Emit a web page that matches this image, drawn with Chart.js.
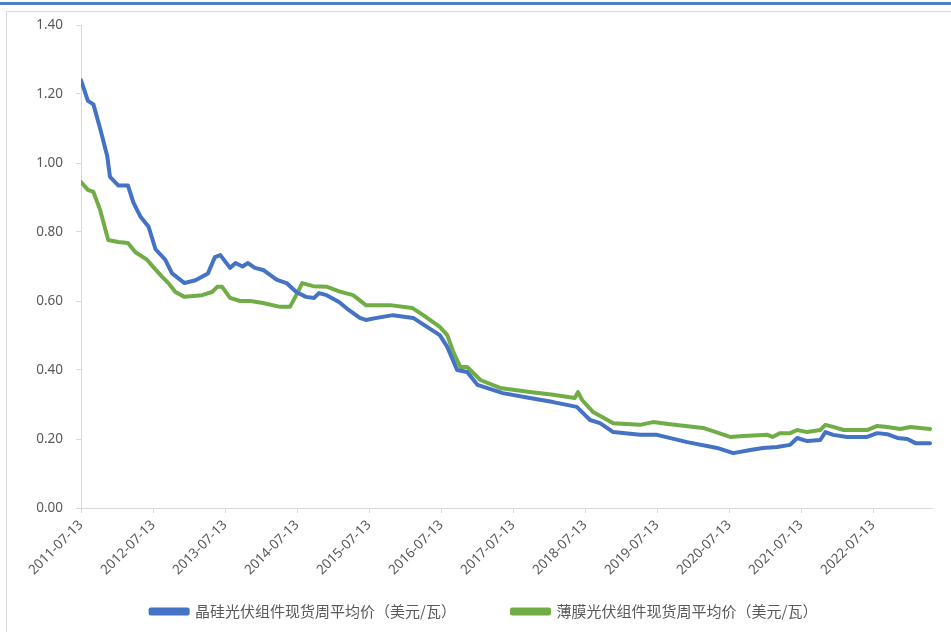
<!DOCTYPE html>
<html>
<head>
<meta charset="utf-8">
<script src="https://cdn.jsdelivr.net/npm/chart.js@4/dist/chart.umd.min.js"></script>
<style>
  html, body { margin: 0; padding: 0; background: #fff; }
  #wrap { position: relative; width: 951px; height: 632px; overflow: hidden; }
  #topbar { position: absolute; left: 0; top: 2px; width: 951px; height: 3px; background: #4f81bd; }
  #frame { position: absolute; left: 6px; top: 11px; width: 980px; height: 660px; border: 1px solid #d9d9d9; }
  #chart { position: absolute; left: 0; top: 0; }
</style>
</head>
<body>
<div id="wrap">
  <div id="topbar"></div>
  <div id="frame"></div>
  <canvas id="chart" width="951" height="632"></canvas>
</div>
<script>
// weekly spot module prices (USD/W)
const blueName = '晶硅光伏组件现货周平均价（美元/瓦）';
const greenName = '薄膜光伏组件现货周平均价（美元/瓦）';

const blueDates = ['2011-07-13', '2011-08-17', '2011-09-14', '2011-10-18', '2011-11-23', '2011-12-07',
    '2012-01-18', '2012-03-07', '2012-04-04', '2012-05-09', '2012-06-20', '2012-07-25', '2012-09-12',
    '2012-10-17', '2012-12-19', '2013-02-13', '2013-04-17', '2013-05-22', '2013-06-19', '2013-08-07',
    '2013-09-04', '2013-10-09', '2013-11-06', '2013-12-11', '2014-01-22', '2014-04-02', '2014-05-21',
    '2014-07-09', '2014-08-27', '2014-10-08', '2014-11-01', '2014-12-10', '2015-02-11', '2015-04-01',
    '2015-05-27', '2015-06-27', '2015-08-22', '2015-11-11', '2016-02-22', '2016-05-02', '2016-07-06',
    '2016-08-13', '2016-10-02', '2016-11-22', '2017-01-13', '2017-05-22', '2017-10-06', '2018-02-01',
    '2018-06-01', '2018-08-07', '2018-09-27', '2018-12-03', '2019-04-18', '2019-07-13', '2019-12-13',
    '2020-05-13', '2020-08-03', '2020-10-28', '2021-01-01', '2021-03-13', '2021-05-18', '2021-06-23',
    '2021-08-13', '2021-10-18', '2021-11-13', '2021-12-23', '2022-03-03', '2022-06-13', '2022-08-03',
    '2022-09-23', '2022-11-13', '2023-01-03', '2023-02-13', '2023-04-28'];
const blueValues = [1.24, 1.18, 1.17, 1.10, 1.02, 0.96,
    0.935, 0.935, 0.885, 0.845, 0.815, 0.75, 0.72,
    0.68, 0.652, 0.66, 0.68, 0.727, 0.733, 0.696,
    0.71, 0.70, 0.71, 0.696, 0.69, 0.661, 0.652,
    0.626, 0.612, 0.609, 0.623, 0.617, 0.597, 0.574,
    0.551, 0.545, 0.551, 0.559, 0.551, 0.525, 0.501,
    0.467, 0.40, 0.394, 0.357, 0.333, 0.319, 0.307,
    0.293, 0.255, 0.246, 0.22, 0.212, 0.212, 0.191,
    0.174, 0.159, 0.168, 0.174, 0.177, 0.183, 0.203,
    0.194, 0.197, 0.22, 0.212, 0.206, 0.206, 0.217,
    0.214, 0.203, 0.20, 0.188, 0.188];

const greenDates = ['2011-07-13', '2011-08-17', '2011-09-14', '2011-10-18', '2011-11-28', '2012-01-18',
    '2012-03-07', '2012-04-13', '2012-06-13', '2012-07-13', '2012-08-28', '2012-09-28', '2012-11-03',
    '2012-12-19', '2013-03-18', '2013-05-08', '2013-06-03', '2013-06-28', '2013-08-07', '2013-09-27',
    '2013-11-18', '2014-01-22', '2014-04-18', '2014-06-07', '2014-07-09', '2014-08-08', '2014-10-03',
    '2014-12-13', '2015-02-11', '2015-04-23', '2015-06-27', '2015-10-28', '2016-02-17', '2016-04-13',
    '2016-07-06', '2016-08-13', '2016-09-13', '2016-10-18', '2016-11-22', '2017-01-28', '2017-05-08',
    '2017-10-06', '2018-02-01', '2018-05-22', '2018-06-07', '2018-06-28', '2018-08-23', '2018-12-03',
    '2019-04-18', '2019-06-23', '2019-09-18', '2020-03-03', '2020-07-18', '2020-09-23', '2021-01-23',
    '2021-02-18', '2021-03-28', '2021-05-18', '2021-06-23', '2021-08-13', '2021-10-18', '2021-11-13',
    '2021-12-23', '2022-02-13', '2022-06-13', '2022-08-03', '2022-09-23', '2022-11-28', '2023-01-18',
    '2023-04-28'];
const greenValues = [0.945, 0.922, 0.916, 0.864, 0.777, 0.771,
    0.768, 0.742, 0.719, 0.699, 0.67, 0.652, 0.626,
    0.612, 0.617, 0.626, 0.641, 0.641, 0.609, 0.60,
    0.60, 0.594, 0.583, 0.583, 0.617, 0.652, 0.643,
    0.641, 0.628, 0.617, 0.588, 0.588, 0.58, 0.559,
    0.525, 0.501, 0.452, 0.409, 0.409, 0.371, 0.348,
    0.336, 0.328, 0.319, 0.336, 0.313, 0.278, 0.246,
    0.241, 0.249, 0.243, 0.232, 0.206, 0.209, 0.212,
    0.206, 0.217, 0.217, 0.226, 0.22, 0.226, 0.241,
    0.235, 0.226, 0.226, 0.238, 0.235, 0.229, 0.235,
    0.229];

const xTickLabels = ['2011-07-13', '2012-07-13', '2013-07-13', '2014-07-13', '2015-07-13', '2016-07-13',
    '2017-07-13', '2018-07-13', '2019-07-13', '2020-07-13', '2021-07-13', '2022-07-13'];
const yTicks = [0, 0.2, 0.4, 0.6, 0.8, 1.0, 1.2, 1.4];

const startDay = Date.UTC(2011, 6, 13);
function toDays(s) {
    const p = s.split('-').map(Number);
    return (Date.UTC(p[0], p[1] - 1, p[2]) - startDay) / 86400000;
}
function points(dates, values) {
    return dates.map((d, i) => ({ x: toDays(d), y: values[i] }));
}

const textColor = '#595959';
const lineColor = '#d9d9d9';
const tickFont = { family: '"Noto Sans", "Noto Sans CJK SC", sans-serif', size: 13.5 };

// the legend sits closer to the axis than its item padding would allow, move it up
const legendShift = {
    id: 'legendShift',
    afterLayout(chart) {
        const lg = chart.legend;
        const dy = 548 - lg.top;
        lg.top += dy;
        lg.bottom += dy;
    }
};

const ctx = document.getElementById('chart').getContext('2d');
new Chart(ctx, {
    type: 'line',
    data: {
        datasets: [{
            label: blueName,
            data: points(blueDates, blueValues),
            borderColor: '#4472c4',
            backgroundColor: '#4472c4',
            borderWidth: 4,
            pointRadius: 0,
            borderJoinStyle: 'round',
            borderCapStyle: 'round'
        }, {
            label: greenName,
            data: points(greenDates, greenValues),
            borderColor: '#70ad47',
            backgroundColor: '#70ad47',
            borderWidth: 4,
            pointRadius: 0,
            borderJoinStyle: 'round',
            borderCapStyle: 'round'
        }]
    },
    plugins: [legendShift],
    options: {
        responsive: false,
        animation: false,
        layout: { padding: { left: 36, right: 19, top: 25, bottom: -29 } },
        plugins: {
            tooltip: { enabled: false },
            legend: {
                position: 'bottom',
                labels: {
                    boxWidth: 37,
                    boxHeight: 4,
                    padding: 56,
                    color: textColor,
                    font: { family: '"Noto Sans CJK SC", sans-serif', size: 15 }
                }
            }
        },
        scales: {
            x: {
                type: 'linear',
                min: 0,
                max: toDays('2023-05-08'),
                afterFit: scale => { scale.height = 72; },
                afterBuildTicks: scale => {
                    scale.ticks = xTickLabels.map(d => ({ value: toDays(d) }));
                },
                grid: { drawOnChartArea: false, drawTicks: true, tickLength: 5, color: lineColor },
                border: { color: lineColor },
                ticks: {
                    autoSkip: false,
                    maxRotation: 45,
                    minRotation: 45,
                    padding: 4,
                    color: textColor,
                    font: tickFont,
                    callback: (v, i) => xTickLabels[i]
                }
            },
            y: {
                min: 0,
                max: 1.4,
                afterFit: scale => { scale.width = 45; },
                afterBuildTicks: scale => {
                    scale.ticks = yTicks.map(v => ({ value: v }));
                },
                grid: { drawOnChartArea: false, drawTicks: true, tickLength: 5, color: lineColor },
                border: { color: lineColor },
                ticks: {
                    padding: 13,
                    color: textColor,
                    font: tickFont,
                    callback: v => v.toFixed(2)
                }
            }
        }
    }
});
</script>
</body>
</html>
